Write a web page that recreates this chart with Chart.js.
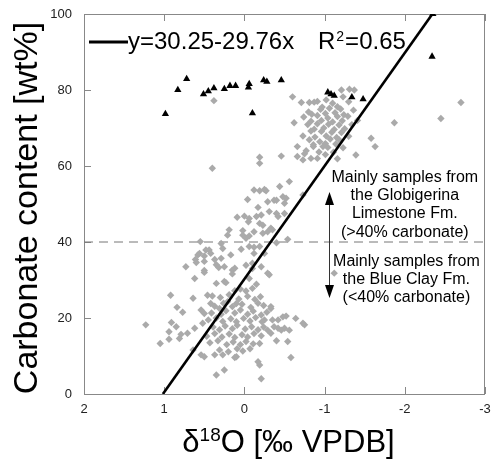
<!DOCTYPE html>
<html>
<head>
<meta charset="utf-8">
<script src="https://cdn.jsdelivr.net/npm/chart.js@4/dist/chart.umd.min.js"></script>
<style>
  html, body { margin: 0; padding: 0; background: #fff; }
  canvas { display: block; }
</style>
</head>
<body>
<canvas id="chart" width="491" height="459"></canvas>
<script>
// tick labels
var xTicks = [2, 1, 0, -1, -2, -3];
var yTicks = [0, 20, 40, 60, 80, 100];

// regression y=30.25-29.76x, end points where it meets y=0 and y=100
var fitLine = [[1.0165, 0], [-2.3438, 100]];
var cutoffLine = [[2, 40], [-3, 40]];

// black triangles
var triPts = [
  [0.985, 73.7], [0.83, 80.0], [0.72, 82.9], [0.51, 78.9], [0.45, 79.7], [0.38, 80.5],
  [0.25, 80.3], [0.18, 81.1], [0.11, 81.1], [-0.05, 80.7], [-0.06, 81.6], [-0.10, 73.9],
  [-0.24, 82.6], [-0.28, 82.2], [-0.46, 82.6], [-1.04, 79.4], [-1.08, 78.9], [-1.12, 78.5],
  [-1.34, 78.1], [-1.48, 77.6], [-2.34, 88.8], [-2.35, 100]
];

// grey diamonds, >55 wt%
var limestonePts = [
  [0.38, 77.2], [0.40, 59.4], [-0.60, 78.2], [-0.71, 76.7], [-0.81, 76.7], [-0.91, 77.0],
  [-1.02, 77.4], [-1.23, 78.2], [-1.21, 80.0], [-1.31, 80.2], [-1.37, 80.0], [-2.70, 76.7],
  [-2.45, 72.5], [-1.87, 71.4], [-0.62, 71.4], [-1.58, 67.3], [-1.63, 65.1], [-1.39, 62.9],
  [-0.66, 65.1], [-0.19, 62.3], [-0.19, 60.7], [-0.46, 62.6], [-0.66, 62.5], [-0.73, 61.6],
  [-0.83, 62.0], [-0.98, 65.1], [-0.56, 55.9], [-0.44, 54.6],
  [-0.87, 76.8], [-0.97, 75.5], [-1.10, 76.5], [-1.16, 75.6], [-1.30, 76.9],
  [-0.80, 74.2], [-0.84, 73.6], [-0.95, 74.9], [-1.01, 73.8], [-1.06, 75.2], [-1.13, 74.0],
  [-1.20, 75.0], [-1.24, 73.5], [-1.36, 74.7],
  [-0.74, 72.9], [-0.83, 71.8], [-0.91, 73.3], [-0.96, 72.0], [-1.04, 72.6], [-1.10, 71.6],
  [-1.16, 73.0], [-1.22, 71.9], [-1.29, 73.1], [-1.41, 72.0],
  [-0.79, 70.9], [-0.87, 69.7], [-0.91, 71.1], [-0.99, 70.0], [-1.05, 71.0], [-1.12, 69.6],
  [-1.18, 70.8], [-1.25, 69.8], [-1.34, 70.9],
  [-0.73, 67.9], [-0.83, 69.2], [-0.88, 67.6], [-0.96, 69.1], [-1.02, 67.9], [-1.09, 68.9],
  [-1.15, 67.5], [-1.21, 68.8], [-1.30, 67.8],
  [-0.81, 66.9], [-0.86, 65.6], [-0.94, 66.4], [-1.01, 65.9], [-1.07, 67.1], [-1.14, 65.8],
  [-1.18, 66.9], [-0.77, 64.0], [-0.86, 65.1], [-0.93, 63.7], [-1.04, 64.9], [-1.11, 63.6],
  [-1.23, 64.8], [-0.75, 63.2], [-0.91, 62.0], [-1.01, 63.0], [-1.16, 61.9]
];

// grey diamonds, 30-55 wt%
var mixedPts = [
  [-0.12, 53.7], [-0.19, 53.5], [-0.27, 53.5], [-0.25, 53.8], [-0.04, 51.2], [-0.29, 50.6],
  [-0.37, 51.0], [-0.40, 51.0], [-0.48, 51.9], [-0.52, 51.5], [-0.73, 52.4], [-0.50, 50.2],
  [-0.17, 49.1], [-0.31, 48.0], [-0.40, 47.5], [-0.50, 47.5], [-0.42, 46.7],
  [0.09, 46.5], [0.00, 46.8], [-0.06, 46.2], [-0.05, 45.3], [-0.21, 47.1], [-0.15, 46.7],
  [-0.19, 44.9], [-0.23, 44.4], [-0.33, 43.6],
  [0.19, 43.2], [0.21, 41.8], [0.02, 43.0], [-0.12, 42.7], [-0.23, 42.3], [-0.29, 42.7],
  [-0.35, 43.2], [0.02, 41.8], [-0.02, 41.0], [-0.06, 41.6], [0.55, 40.1], [-0.54, 40.7],
  [-0.40, 39.8], [0.29, 39.6], [0.27, 38.3], [0.44, 37.9], [0.42, 37.0], [0.56, 37.0],
  [0.50, 36.3], [0.48, 37.9], [0.37, 35.4], [0.29, 35.7], [0.61, 35.4], [0.60, 34.6],
  [0.17, 36.6], [0.58, 36.6], [0.04, 38.1], [-0.06, 38.8], [-0.12, 38.6], [-0.19, 38.8],
  [-0.25, 37.0], [-0.12, 37.0], [-0.02, 33.9], [-0.10, 34.4], [0.12, 33.1], [0.73, 33.5],
  [0.50, 32.5], [0.32, 33.3], [0.25, 33.5], [0.35, 34.0], [-0.21, 33.5], [-0.29, 31.8],
  [0.50, 34.9], [0.62, 30.4], [0.35, 29.1], [0.25, 29.6], [0.15, 32.6], [-0.10, 33.0],
  [-0.06, 30.4], [-0.31, 31.4], [-1.12, 31.8], [0.50, 32.0], [0.15, 31.6], [0.23, 29.3]
];

// grey diamonds, <30 wt%
var clayPts = [
  [0.92, 26.0], [0.64, 25.2], [0.40, 25.8], [0.42, 23.8], [0.46, 26.0], [0.84, 22.8],
  [0.77, 21.5], [0.54, 22.1], [0.50, 21.2], [1.23, 18.2], [0.91, 18.8], [0.85, 17.7],
  [0.94, 16.4], [0.79, 15.7], [0.71, 16.0], [0.62, 17.3], [0.52, 18.6], [1.05, 13.3],
  [0.94, 14.4], [0.81, 14.6], [0.64, 11.6], [0.54, 10.3], [0.50, 9.8], [0.37, 10.3],
  [0.27, 10.3], [0.12, 9.6], [0.25, 6.3], [0.35, 5.0], [0.10, 9.8],
  [-0.15, 28.9], [-0.33, 23.0], [-0.52, 20.5], [-0.64, 19.9], [-0.75, 18.2], [-0.73, 18.6],
  [-0.48, 20.3], [-0.35, 19.5], [-0.42, 19.5], [-0.42, 17.3], [-0.50, 17.3], [-0.37, 17.7],
  [-0.29, 16.8], [-0.46, 16.8], [-0.56, 16.8], [-0.40, 14.0], [-0.54, 13.8], [-0.19, 13.3],
  [-0.58, 9.6], [-0.17, 8.5], [-0.19, 7.6], [-0.21, 4.0], [-0.25, 19.5], [-0.33, 16.0],
  [-0.33, 22.5], [0.31, 22.5], [0.21, 24.3], [0.10, 23.8],
  [0.05, 27.6], [-0.02, 27.1], [-0.10, 27.8], [0.12, 27.2],
  [0.30, 25.4], [0.19, 26.1], [0.07, 25.0], [-0.04, 25.7], [-0.13, 24.9], [-0.20, 25.6],
  [0.37, 23.1], [0.26, 23.9], [0.15, 23.0], [0.03, 23.6], [-0.08, 22.8], [-0.17, 23.9], [-0.24, 23.3],
  [0.41, 21.3], [0.29, 21.0], [0.23, 21.9], [0.12, 21.3], [0.05, 22.1], [-0.04, 21.0],
  [-0.11, 21.8], [-0.21, 20.8], [-0.28, 21.5],
  [0.45, 19.5], [0.35, 20.0], [0.27, 19.1], [0.17, 19.8], [0.10, 19.0], [0.01, 19.9],
  [-0.07, 19.2], [-0.14, 20.1], [-0.22, 19.0],
  [0.39, 17.6], [0.31, 16.9], [0.24, 17.9], [0.15, 17.2], [0.09, 18.1], [-0.01, 17.1],
  [-0.09, 17.7], [-0.17, 16.9], [-0.24, 17.6],
  [0.47, 15.2], [0.37, 15.9], [0.28, 15.0], [0.19, 15.8], [0.12, 14.9], [0.03, 15.6],
  [-0.04, 15.0], [-0.12, 15.9], [-0.21, 15.3],
  [0.43, 13.5], [0.33, 14.0], [0.22, 13.0], [0.14, 13.7], [0.05, 13.0], [-0.02, 13.8], [-0.11, 13.2],
  [0.31, 11.6], [0.20, 11.1], [0.09, 11.9], [0.02, 11.3], [-0.07, 11.9]
];

var FONT = "'Liberation Sans', Arial, sans-serif";
var AXIS_GREY = "#888888";

var framePlugin = {
  id: "frame",
  beforeDatasetsDraw: function (chart) {
    var ctx = chart.ctx, a = chart.chartArea, x = chart.scales.x, y = chart.scales.y;
    ctx.save();
    ctx.strokeStyle = AXIS_GREY;
    ctx.lineWidth = 1;
    ctx.strokeRect(a.left + 0.5, a.top + 0.5, a.right - a.left - 1, a.bottom - a.top);
    ctx.beginPath();
    xTicks.forEach(function (v) {
      var px = Math.round(x.getPixelForValue(v)) + 0.5;
      ctx.moveTo(px, a.bottom); ctx.lineTo(px, a.bottom - 7);
      ctx.moveTo(px, a.top); ctx.lineTo(px, a.top + 7);
    });
    yTicks.forEach(function (v) {
      var py = Math.round(y.getPixelForValue(v)) + 0.5;
      ctx.moveTo(a.left, py); ctx.lineTo(a.left + 7, py);
    });
    ctx.stroke();
    ctx.restore();
  },
  afterDraw: function (chart) {
    var ctx = chart.ctx, a = chart.chartArea, x = chart.scales.x, y = chart.scales.y;
    ctx.save();
    ctx.fillStyle = "#000";
    ctx.textBaseline = "alphabetic";

    // y title
    ctx.save();
    ctx.translate(37, (a.top + a.bottom) / 2 + 4);
    ctx.rotate(-Math.PI / 2);
    ctx.font = "34px " + FONT;
    ctx.textAlign = "center";
    ctx.fillText("Carbonate content [wt%]", 0, 0);
    ctx.restore();

    // x title with superscript 18
    ctx.textAlign = "left";
    var big = "31px " + FONT, small = "19px " + FONT;
    ctx.font = big; var w1 = ctx.measureText("\u03b4").width, w3 = ctx.measureText("O [\u2030 VPDB]").width;
    ctx.font = small; var w2 = ctx.measureText("18").width;
    var tx = (a.left + a.right) / 2 - (w1 + w2 + w3) / 2 + 4;
    ctx.font = big; ctx.fillText("\u03b4", tx, 452);
    ctx.font = small; ctx.fillText("18", tx + w1, 441);
    ctx.font = big; ctx.fillText("O [\u2030 VPDB]", tx + w1 + w2, 452);

    // legend for the fit line
    ctx.strokeStyle = "#000";
    ctx.lineWidth = 3;
    ctx.beginPath();
    ctx.moveTo(a.left + 5, 42); ctx.lineTo(a.left + 44, 42);
    ctx.stroke();
    ctx.font = "24px " + FONT;
    ctx.fillText("y=30.25-29.76x", a.left + 44, 49);
    var rx = a.left + 234;
    ctx.fillText("R", rx, 49);
    var rw = ctx.measureText("R").width;
    ctx.font = "14px " + FONT;
    ctx.fillText("2", rx + rw + 1, 41);
    var sw = ctx.measureText("2").width;
    ctx.font = "24px " + FONT;
    ctx.fillText("=0.65", rx + rw + sw + 2, 49);

    // notes on either side of the 40% cut-off
    var cy = y.getPixelForValue(40);
    ctx.font = "16px " + FONT;
    ctx.textAlign = "center";
    var c1 = x.getPixelForValue(-2.0), c2 = x.getPixelForValue(-2.02);
    ctx.fillText("Mainly samples from", c1, cy - 60);
    ctx.fillText("the Globigerina", c1, cy - 42);
    ctx.fillText("Limestone Fm.", c1, cy - 24);
    ctx.fillText("(>40% carbonate)", c1, cy - 5.5);
    ctx.fillText("Mainly samples from", c2, cy + 24);
    ctx.fillText("the Blue Clay Fm.", c2, cy + 42);
    ctx.fillText("(<40% carbonate)", c2, cy + 60);

    // double arrow
    var ax = Math.round(x.getPixelForValue(-1.05)) + 0.5;
    var t = cy - 50, b = cy + 56;
    ctx.strokeStyle = "#333";
    ctx.lineWidth = 1;
    ctx.beginPath();
    ctx.moveTo(ax, t + 10); ctx.lineTo(ax, b - 10);
    ctx.stroke();
    ctx.fillStyle = "#000";
    ctx.beginPath();
    ctx.moveTo(ax, t); ctx.lineTo(ax - 4.5, t + 13); ctx.lineTo(ax + 4.5, t + 13); ctx.closePath();
    ctx.fill();
    ctx.beginPath();
    ctx.moveTo(ax, b); ctx.lineTo(ax - 4.5, b - 13); ctx.lineTo(ax + 4.5, b - 13); ctx.closePath();
    ctx.fill();
    ctx.restore();
  }
};

function toXY(list) {
  return list.map(function (p) { return { x: p[0], y: p[1] }; });
}

var ctx = document.getElementById("chart").getContext("2d");
var greyStyle = {
  pointStyle: "rectRot", pointRadius: 3.7, pointHoverRadius: 3.7,
  backgroundColor: "#aaaaaa", borderWidth: 0, showLine: false
};

var myChart = new Chart(ctx, {
  type: "scatter",
  data: {
    datasets: [
      { type: "line", data: toXY(fitLine), borderColor: "#000", borderWidth: 2.6, pointRadius: 0, fill: false, tension: 0 },
      { data: toXY(triPts), pointStyle: "triangle", pointRadius: 4.2, backgroundColor: "#000", borderWidth: 0 },
      Object.assign({ data: toXY(limestonePts) }, greyStyle),
      Object.assign({ data: toXY(mixedPts) }, greyStyle),
      Object.assign({ data: toXY(clayPts) }, greyStyle),
      { type: "line", data: toXY(cutoffLine), borderColor: "#777", borderWidth: 1, borderDash: [9, 6], pointRadius: 0, fill: false }
    ]
  },
  options: {
    responsive: false,
    animation: false,
    devicePixelRatio: 1,
    layout: { padding: { top: 14, right: 6, left: 0, bottom: 0 } },
    plugins: { legend: { display: false }, tooltip: { enabled: false } },
    scales: {
      x: {
        type: "linear", reverse: true, min: -3, max: 2,
        grid: { display: false, drawTicks: false },
        border: { display: false },
        ticks: { font: { family: FONT, size: 13 }, color: "#222", padding: 8, maxRotation: 0 },
        afterBuildTicks: function (s) { s.ticks = xTicks.map(function (v) { return { value: v }; }); },
        afterFit: function (s) { s.height = 65; s.paddingLeft = 0; s.paddingRight = 0; }
      },
      y: {
        type: "linear", min: 0, max: 100,
        grid: { display: false, drawTicks: false },
        border: { display: false },
        ticks: { font: { family: FONT, size: 13 }, color: "#222", padding: 12 },
        afterBuildTicks: function (s) { s.ticks = yTicks.map(function (v) { return { value: v }; }); },
        afterFit: function (s) { s.width = 84; s.paddingTop = 0; s.paddingBottom = 0; }
      }
    }
  },
  plugins: [framePlugin]
});
</script>
</body>
</html>
